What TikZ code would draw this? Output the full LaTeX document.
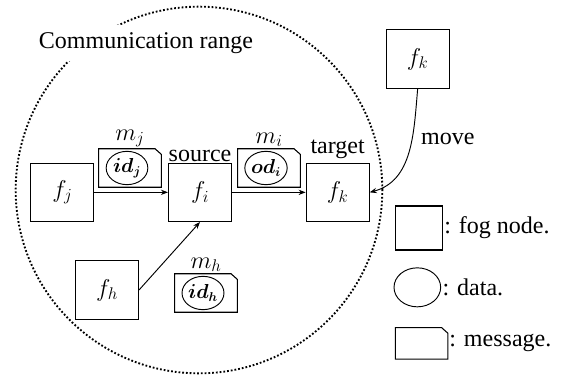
\documentclass[tikz,border=0pt]{standalone}
\usepackage{fontspec}
\setmainfont{Liberation Serif}
\usepackage{bm}
\usetikzlibrary{positioning, arrows.meta, shapes.geometric}

\tikzset{
  fog/.style={draw, line width=0.9pt, minimum width=1.89cm, minimum height=1.75cm, inner sep=0pt},
  msg/.style={minimum width=1.87cm, minimum height=1.14cm, inner sep=0pt},
  msgline/.style={line width=0.9pt, line join=miter},
  data/.style={draw, line width=0.8pt, ellipse, minimum width=1.25cm, minimum height=1cm, inner sep=0pt,
    font=\fontsize{16}{18}\selectfont},
  rangering/.style={draw, line width=1.6pt, dash pattern=on 1.5pt off 1.7pt},
}

\begin{document}
\begin{tikzpicture}[node distance=4.13cm, on grid, >={Stealth[length=6pt, width=4.5pt]},
    font=\fontsize{20.5}{24}\selectfont]
    \useasboundingbox (0,0) rectangle (16.83,11.25);

    % Communication range
    \draw[rangering] (5.97,5.55) circle (5.5cm);
    \node[fill=white, inner sep=0.22cm] (crange) at (4.38,9.96) {Communication range};

    % Fog nodes
    \node[fog] (fj) at (1.87,5.48) {$f_j$};
    \node[fog, label={[label distance=-3pt]above:source}] (fi) [right=of fj] {$f_i$};
    \node[fog, label={[label distance=0pt]above:target}] (fk) [right=of fi] {$f_k$};
    \node[fog] (fh) [below right=2.93cm and 1.34cm of fj] {$f_h$};
    \node[fog] (fknew) [above right=4cm and 2.4cm of fk] {$f_k$};

    % Messages with data
    \node[msg, label={[label distance=-2pt]above:$m_j$}] (mj) at (3.9,6.21) {};
    \node[data] (dj) at ([xshift=-0.09cm]mj.center) {$\bm{id_j}$};
    \node[msg, label={[label distance=-2pt]above:$m_i$}] (mi) at (8.07,6.21) {};
    \node[data] (di) at ([xshift=-0.09cm]mi.center) {$\bm{od_i}$};
    \node[msg, label={[label distance=-2pt]above:$m_h$}] (mh) at (6.18,2.46) {};
    \node[data] (dh) at ([xshift=-0.09cm]mh.center) {$\bm{id_h}$};

    % Legend
    \node[fog, minimum width=1.4cm, minimum height=1.32cm] (lfog) at (12.57,4.41) {};
    \node[data, minimum width=1.4cm, minimum height=1.17cm] (ldata) at (12.52,2.63) {};
    \node[msg, minimum width=1.56cm, minimum height=0.93cm] (lmsg) at (12.65,0.95) {};
    \node[anchor=west, inner sep=1pt] (tfog) at (lfog.east) {: fog node.};
    \node[anchor=west, inner sep=1pt] (tdata) at (ldata.east) {: data.};
    \node[anchor=west, inner sep=1pt] (tmsg) at (lmsg.east) {: message.};

    % message outlines with the cut corner
    \foreach \m in {mj, mi, mh, lmsg}
        \draw[msgline] (\m.south west) -- (\m.north west) -- ([xshift=-0.19cm]\m.north east)
            -- ([yshift=-0.17cm]\m.north east) -- (\m.south east) -- cycle;

    \path[->, line width=0.8pt]
        (fj) edge (fi)
        (fi) edge (fk)
        (fh.east) edge (fi.south)
        (fknew.south) edge [out=-95, in=15] node [pos=0.38, anchor=west, xshift=4pt] {move} (fk.east);

\end{tikzpicture}
\end{document}
